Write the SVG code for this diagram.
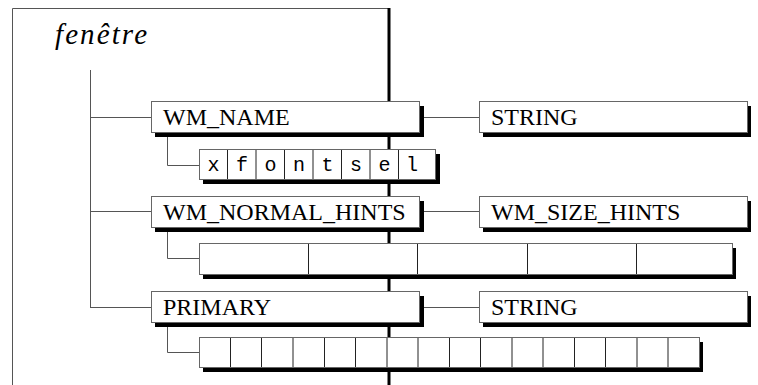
<svg xmlns="http://www.w3.org/2000/svg" width="758" height="385" viewBox="0 0 758 385">
<style>
.frame{fill:none;stroke:#555;stroke-width:1}
.thick{stroke:#000;stroke-width:3}
.con{fill:none;stroke:#555;stroke-width:1}
.sh{fill:#000}
.box{fill:#fff;stroke:#666;stroke-width:1}
.div{stroke:#222;stroke-width:1}
.lbl{font-family:"Liberation Serif","Times New Roman",serif;font-size:24px;fill:#000}
.ch{font-family:"Liberation Mono","Courier New",monospace;font-size:20px;fill:#000;text-anchor:middle}
.title{font-family:"Liberation Serif","Times New Roman",serif;font-style:italic;font-size:29px;fill:#000}
</style>
<rect width="758" height="385" fill="#fff"/>
<g id="frame">
<path class="frame" d="M12.5,385 V8.5 H389"/>
<line class="thick" x1="389" y1="8" x2="389" y2="385"/>
<text class="title" x="55" y="44" textLength="92" lengthAdjust="spacing">fenêtre</text>
</g>
<g id="connectors">
<path class="con" d="M90.5,70 V307.5 M90,117.5 H151 M90,211.5 H151 M90,307.5 H151"/>
<path class="con" d="M420,117.5 H479 M420,211.5 H479 M420,307.5 H479"/>
<path class="con" d="M167.5,132 V165.5 H199 M167.5,227 V258.5 H199 M167.5,322 V352.5 H199"/>
</g>
<g id="wm_name">
<rect class="sh" x="155" y="106" width="269" height="31"/>
<rect class="box" x="151.5" y="101.5" width="268" height="31"/>
<text class="lbl" x="163" y="125">WM_NAME</text>
</g>
<g id="string1">
<rect class="sh" x="483" y="106" width="268" height="31"/>
<rect class="box" x="479.5" y="101.5" width="268" height="31"/>
<text class="lbl" x="491" y="125">STRING</text>
</g>
<g id="xfontsel">
<rect class="sh" x="203" y="154" width="237" height="30"/>
<rect class="box" x="199.5" y="149.5" width="236" height="30"/>
<path class="div" d="M227.5,150 V179 M256,150 V179 M284.5,150 V179 M313,150 V179 M341.5,150 V179 M370,150 V179 M398.5,150 V179"/>
<text class="ch" x="213.5" y="171">x</text>
<text class="ch" x="242" y="171">f</text>
<text class="ch" x="270.5" y="171">o</text>
<text class="ch" x="299" y="171">n</text>
<text class="ch" x="327.5" y="171">t</text>
<text class="ch" x="356" y="171">s</text>
<text class="ch" x="384.5" y="171">e</text>
<text class="ch" x="412" y="171">l</text>
</g>
<g id="wm_normal_hints">
<rect class="sh" x="155" y="201" width="269" height="31"/>
<rect class="box" x="151.5" y="196.5" width="268" height="31"/>
<text class="lbl" x="163" y="220">WM_NORMAL_HINTS</text>
</g>
<g id="wm_size_hints">
<rect class="sh" x="483" y="201" width="268" height="31"/>
<rect class="box" x="479.5" y="196.5" width="268" height="31"/>
<text class="lbl" x="491" y="220">WM_SIZE_HINTS</text>
</g>
<g id="hints_cells">
<rect class="sh" x="203" y="248" width="533" height="31"/>
<rect class="box" x="199.5" y="243.5" width="533" height="31"/>
<path class="div" d="M308.5,244 V274 M417.5,244 V274 M527.5,244 V274 M636.5,244 V274"/>
</g>
<g id="primary">
<rect class="sh" x="155" y="296" width="269" height="31"/>
<rect class="box" x="151.5" y="291.5" width="268" height="31"/>
<text class="lbl" x="163" y="315">PRIMARY</text>
</g>
<g id="string2">
<rect class="sh" x="483" y="296" width="268" height="31"/>
<rect class="box" x="479.5" y="291.5" width="268" height="31"/>
<text class="lbl" x="491" y="315">STRING</text>
</g>
<g id="primary_cells">
<rect class="sh" x="203" y="342" width="500" height="30"/>
<rect class="box" x="199.5" y="337.5" width="500" height="30"/>
<path class="div" d="M230.5,338 V367 M261.5,338 V367 M293,338 V367 M324.5,338 V367 M355.5,338 V367 M387,338 V367 M418,338 V367 M449.5,338 V367 M480.5,338 V367 M512,338 V367 M543,338 V367 M574.5,338 V367 M605.5,338 V367 M637,338 V367 M668,338 V367"/>
</g>
</svg>
